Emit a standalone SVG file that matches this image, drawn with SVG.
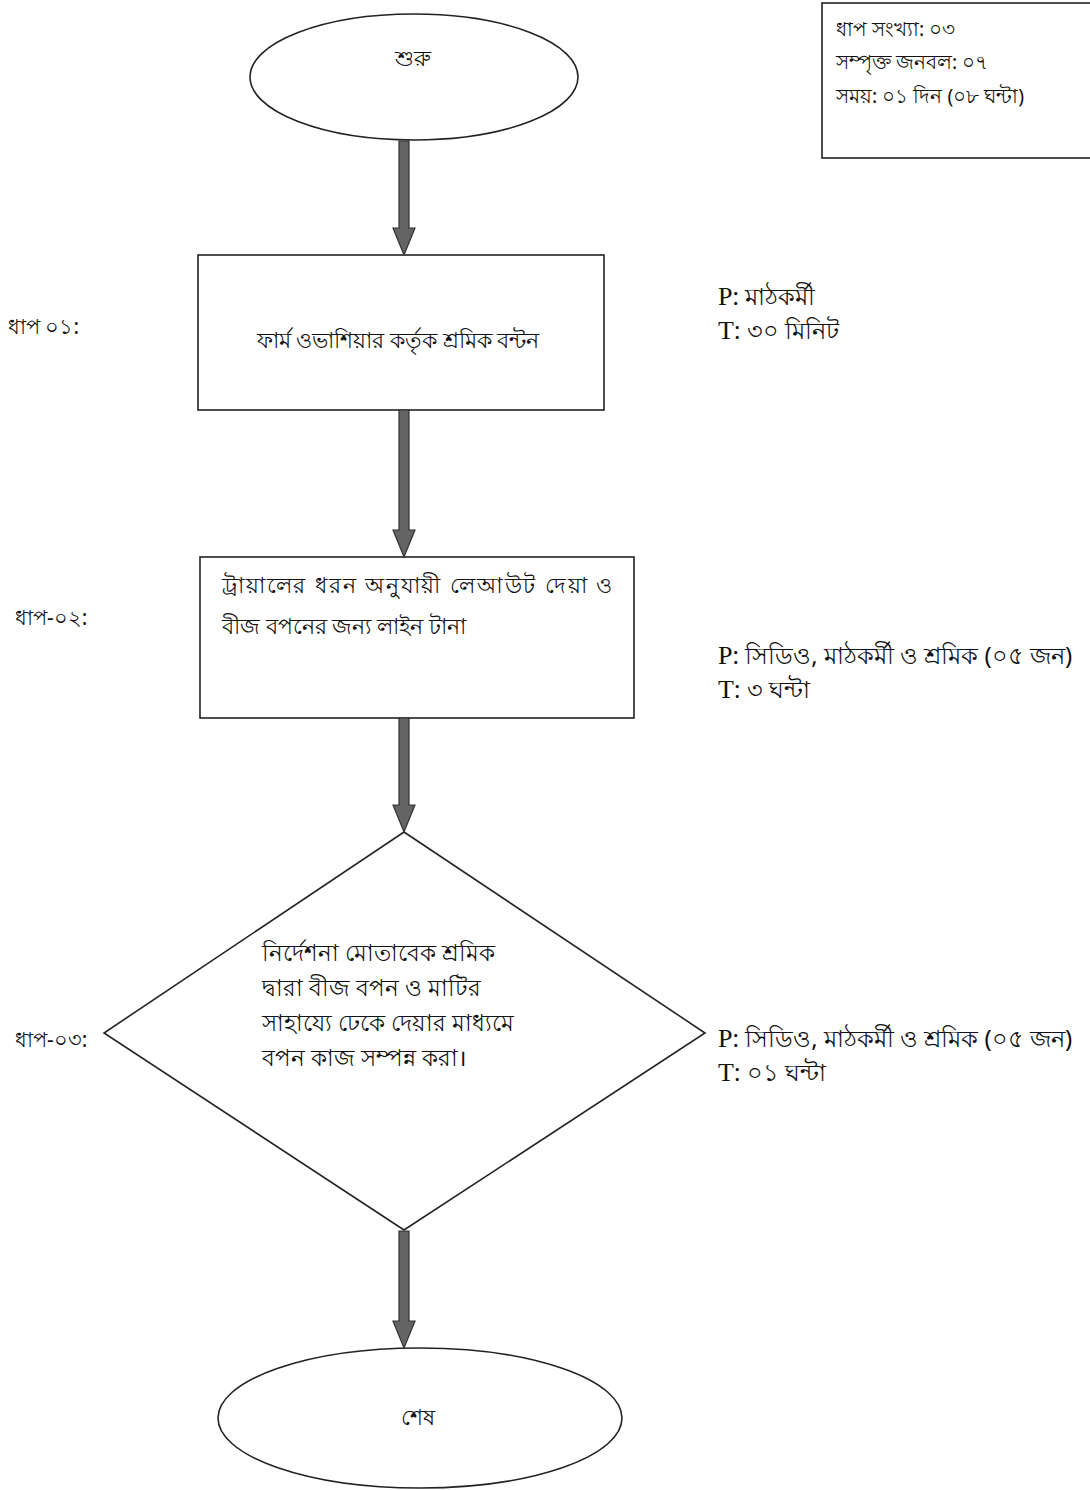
<svg xmlns="http://www.w3.org/2000/svg" width="1090" height="1490" viewBox="0 0 1090 1490">
<style>
.shape{fill:#fff;stroke:#222;stroke-width:1.6}
.bn{font-family:"Noto Sans","Noto Sans CJK SC",sans-serif;font-size:22px;fill:#111}
.dm{font-size:23px}
.rs{font-size:24px}
.lbl{font-family:"Noto Sans",sans-serif;font-size:21px;fill:#111}
.info{font-family:"Noto Sans",sans-serif;font-size:19.5px;fill:#111}
.pt{font-family:"Liberation Serif",serif;font-size:26px;fill:#111}
.arrow{fill:#646464;stroke:#333;stroke-width:1.2}
</style>
<rect width="1090" height="1490" fill="#fff"/>
<g id="info">
<rect class="shape" x="822" y="3" width="275" height="155"/>
<text class="info" x="836" y="36">ধাপ সংখ্যা: ০৩</text>
<text class="info" x="836" y="69">সম্পৃক্ত জনবল: ০৭</text>
<text class="info" x="836" y="103">সময়: ০১ দিন (০৮ ঘন্টা)</text>
</g>
<g id="start">
<ellipse class="shape" cx="414" cy="77" rx="164" ry="63"/>
<text class="bn" x="413" y="66" text-anchor="middle" font-size="24">শুরু</text>
</g>
<g id="step1">
<rect class="shape" x="198" y="255" width="406" height="155"/>
<text class="bn" x="398" y="348" text-anchor="middle">ফার্ম ওভাশিয়ার কর্তৃক শ্রমিক বন্টন</text>
</g>
<g id="step2">
<rect class="shape" x="200" y="557" width="434" height="161"/>
<text class="bn" x="222" y="593" textLength="390" lengthAdjust="spacing">ট্রায়ালের ধরন অনুযায়ী লেআউট দেয়া ও</text>
<text class="bn" x="222" y="634">বীজ বপনের জন্য লাইন টানা</text>
</g>
<g id="step3">
<polygon class="shape" points="404,832 705,1033 404,1230 104,1033"/>
<text class="bn dm" x="262" y="961">নির্দেশনা মোতাবেক শ্রমিক</text>
<text class="bn dm" x="262" y="996">দ্বারা বীজ বপন ও মাটির</text>
<text class="bn dm" x="262" y="1031">সাহায্যে ঢেকে দেয়ার মাধ্যমে</text>
<text class="bn dm" x="262" y="1066">বপন কাজ সম্পন্ন করা।</text>
</g>
<g id="end">
<ellipse class="shape" cx="420" cy="1418" rx="202" ry="70"/>
<text class="bn" x="418" y="1425" text-anchor="middle">শেষ</text>
</g>
<g id="step-labels">
<text class="lbl" x="8" y="334">ধাপ ০১:</text>
<text class="lbl" x="15" y="625">ধাপ-০২:</text>
<text class="lbl" x="15" y="1047">ধাপ-০৩:</text>
</g>
<g id="resources">
<text class="pt" x="718" y="305">P<tspan class="bn rs">: মাঠকর্মী</tspan></text>
<text class="pt" x="718" y="339">T<tspan class="bn rs">: ৩০ মিনিট</tspan></text>
<text class="pt" x="718" y="664">P<tspan class="bn rs">: সিডিও, মাঠকর্মী ও শ্রমিক (০৫ জন)</tspan></text>
<text class="pt" x="718" y="698">T<tspan class="bn rs">: ৩ ঘন্টা</tspan></text>
<text class="pt" x="718" y="1047">P<tspan class="bn rs">: সিডিও, মাঠকর্মী ও শ্রমিক (০৫ জন)</tspan></text>
<text class="pt" x="718" y="1081">T<tspan class="bn rs">: ০১ ঘন্টা</tspan></text>
</g>
<g id="connectors">
<path class="arrow" d="M399,141 H409 V228 H415 L404,255 L393,228 H399 Z"/>
<path class="arrow" d="M399,410 H409 V530 H415 L404,557 L393,530 H399 Z"/>
<path class="arrow" d="M399,718 H409 V805 H415 L404,832 L393,805 H399 Z"/>
<path class="arrow" d="M399,1231 H409 V1321 H415 L404,1348 L393,1321 H399 Z"/>
</g>
</svg>
